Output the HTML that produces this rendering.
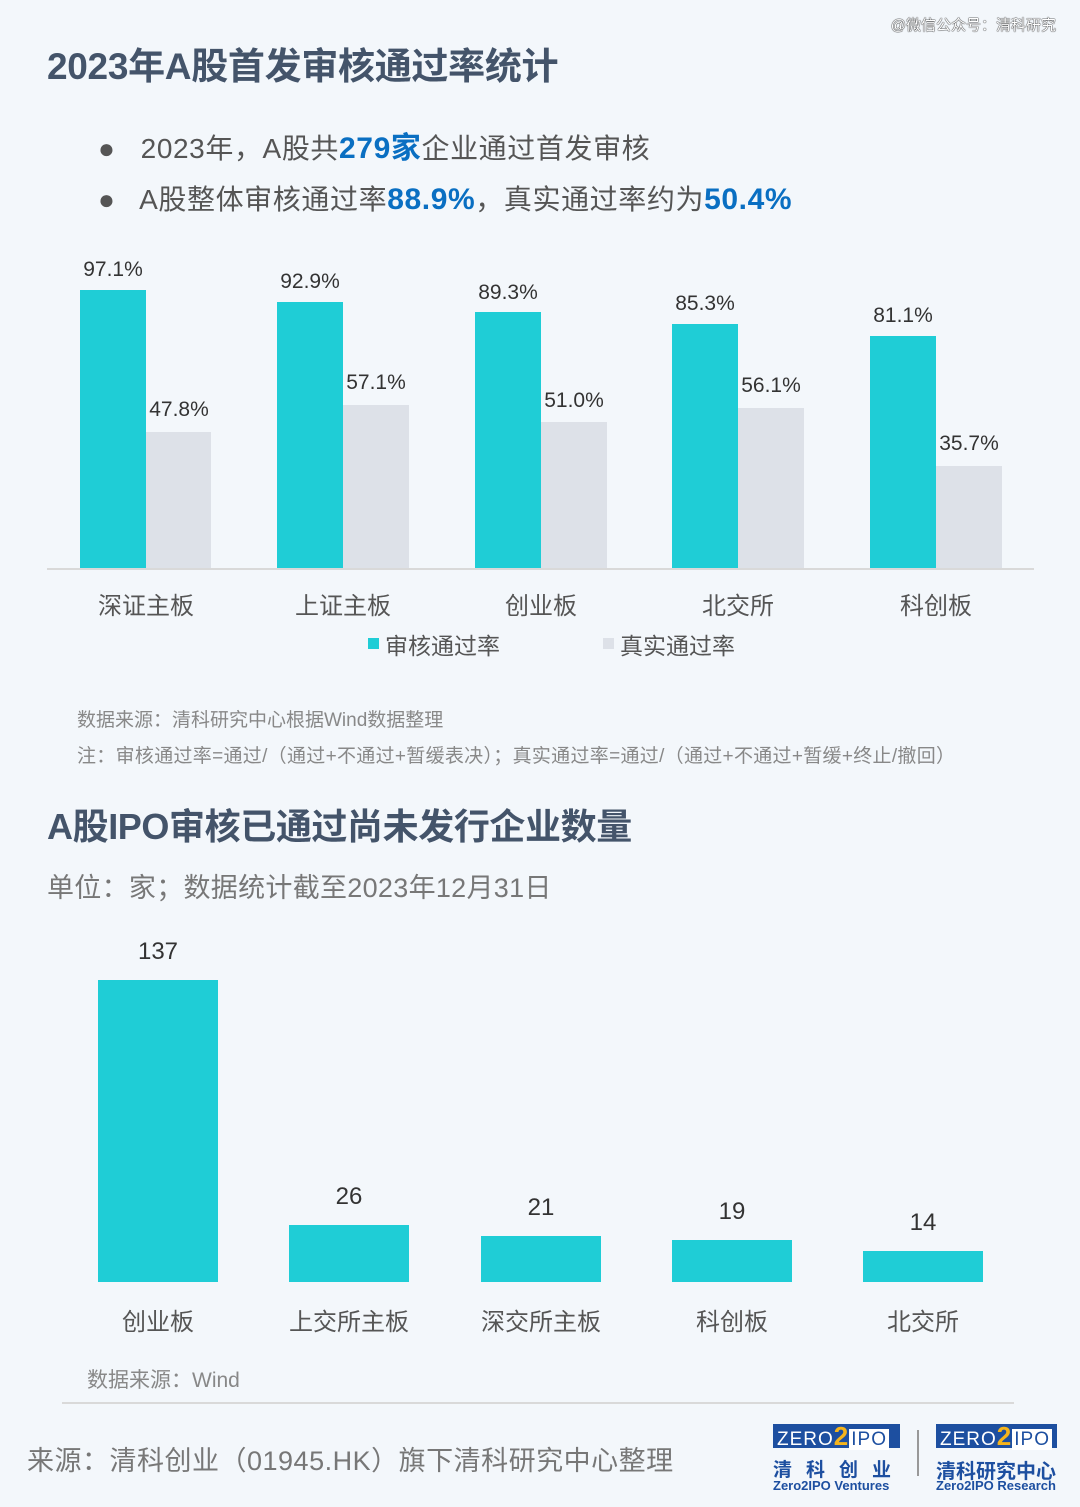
<!DOCTYPE html>
<html><head><meta charset="utf-8"><style>
body{margin:0;background:#f3f7fb;}
#p{position:relative;width:1080px;height:1507px;overflow:hidden;background:#f3f7fb;font-family:"Liberation Sans","Noto Sans CJK SC",sans-serif;}
.a{position:absolute;white-space:nowrap;}
.t{font-weight:bold;color:#44546a;font-size:37px;}
.b{background:#1fcdd6;position:absolute;}
.g{background:#dde1e8;position:absolute;}
.v{position:absolute;font-size:21px;color:#333;text-align:center;width:100px;}
.c{position:absolute;font-size:24px;color:#555;text-align:center;width:160px;}
.hl{color:#0a6fc2;font-weight:bold;font-size:30px;}
</style></head><body><div id="p">
<div class="a" style="right:24px;top:14px;font-size:15px;color:#fff;text-shadow:0 0 1px #000,0 0 1px #000;">@微信公众号：清科研究</div>
<div class="a t" style="left:47px;top:36px;letter-spacing:-0.3px">2023年A股首发审核通过率统计</div>
<div class="a" style="left:98px;top:123px;font-size:28px;color:#555;letter-spacing:0.6px">●&nbsp;&nbsp; 2023年，A股共<span class="hl">279家</span>企业通过首发审核</div>
<div class="a" style="left:98px;top:178px;font-size:28px;color:#555;letter-spacing:0.6px">●&nbsp;&nbsp; A股整体审核通过率<span class="hl">88.9%</span>，真实通过率约为<span class="hl">50.4%</span></div>

<div class="b" style="left:80px;top:290px;width:66px;height:279px"></div><div class="g" style="left:146px;top:432px;width:65px;height:137px"></div>
<div class="b" style="left:277px;top:302px;width:66px;height:267px"></div><div class="g" style="left:343px;top:405px;width:66px;height:164px"></div>
<div class="b" style="left:475px;top:312px;width:66px;height:257px"></div><div class="g" style="left:541px;top:422px;width:66px;height:147px"></div>
<div class="b" style="left:672px;top:324px;width:66px;height:245px"></div><div class="g" style="left:738px;top:408px;width:66px;height:161px"></div>
<div class="b" style="left:870px;top:336px;width:66px;height:233px"></div><div class="g" style="left:936px;top:466px;width:66px;height:103px"></div>
<div class="a" style="left:47px;top:568px;width:987px;height:2px;background:#d9d9d9"></div>
<div class="v" style="left:63px;top:258px">97.1%</div><div class="v" style="left:129px;top:398px">47.8%</div>
<div class="v" style="left:260px;top:270px">92.9%</div><div class="v" style="left:326px;top:371px">57.1%</div>
<div class="v" style="left:458px;top:281px">89.3%</div><div class="v" style="left:524px;top:389px">51.0%</div>
<div class="v" style="left:655px;top:292px">85.3%</div><div class="v" style="left:721px;top:374px">56.1%</div>
<div class="v" style="left:853px;top:304px">81.1%</div><div class="v" style="left:919px;top:432px">35.7%</div>
<div class="c" style="left:66px;top:586px">深证主板</div>
<div class="c" style="left:263px;top:586px">上证主板</div>
<div class="c" style="left:461px;top:586px">创业板</div>
<div class="c" style="left:658px;top:586px">北交所</div>
<div class="c" style="left:856px;top:586px">科创板</div>
<div class="a" style="left:368px;top:638px;width:11px;height:11px;background:#1fcdd6"></div>
<div class="a" style="left:385px;top:627px;font-size:23px;color:#555">审核通过率</div>
<div class="a" style="left:603px;top:638px;width:11px;height:11px;background:#dde1e8"></div>
<div class="a" style="left:620px;top:627px;font-size:23px;color:#555">真实通过率</div>
<div class="a" style="left:77px;top:705px;font-size:19px;color:#888">数据来源：清科研究中心根据Wind数据整理</div>
<div class="a" style="left:77px;top:741px;font-size:19px;color:#888;letter-spacing:0.3px">注：审核通过率=通过/（通过+不通过+暂缓表决）；真实通过率=通过/（通过+不通过+暂缓+终止/撤回）</div>

<div class="a t" style="left:47px;top:798px;font-size:36px;letter-spacing:-0.4px">A股IPO审核已通过尚未发行企业数量</div>
<div class="a" style="left:47px;top:866px;font-size:27px;color:#777;letter-spacing:0.3px">单位：家；数据统计截至2023年12月31日</div>
<div class="b" style="left:98px;top:980px;width:120px;height:302px"></div>
<div class="b" style="left:289px;top:1225px;width:120px;height:57px"></div>
<div class="b" style="left:481px;top:1236px;width:120px;height:46px"></div>
<div class="b" style="left:672px;top:1240px;width:120px;height:42px"></div>
<div class="b" style="left:863px;top:1251px;width:120px;height:31px"></div>
<div class="v" style="left:108px;top:938px;font-size:24px">137</div>
<div class="v" style="left:299px;top:1183px;font-size:24px">26</div>
<div class="v" style="left:491px;top:1194px;font-size:24px">21</div>
<div class="v" style="left:682px;top:1198px;font-size:24px">19</div>
<div class="v" style="left:873px;top:1209px;font-size:24px">14</div>
<div class="c" style="left:78px;top:1302px">创业板</div>
<div class="c" style="left:269px;top:1302px">上交所主板</div>
<div class="c" style="left:461px;top:1302px">深交所主板</div>
<div class="c" style="left:652px;top:1302px">科创板</div>
<div class="c" style="left:843px;top:1302px">北交所</div>
<div class="a" style="left:87px;top:1364px;font-size:21px;color:#888">数据来源：Wind</div>
<div class="a" style="left:62px;top:1402px;width:952px;height:2px;background:#d9d9d9"></div>
<div class="a" style="left:27px;top:1439px;font-size:27px;color:#777;letter-spacing:0.5px">来源：清科创业（01945.HK）旗下清科研究中心整理</div>

<div class="a" style="left:773px;top:1424px;width:127px;height:24px;background:#1d4fa0;color:#fff;font-size:19px;line-height:24px;padding-left:4px;box-sizing:border-box;letter-spacing:1px">ZERO<span style="color:#f5b41c;font-weight:bold;font-size:26px">2</span><span style="background:#fff;color:#1d4fa0;padding:0 2px">IPO</span></div>
<div class="a" style="left:773px;top:1455px;font-size:19px;font-weight:bold;color:#1d4fa0;letter-spacing:14px">清科创业</div>
<div class="a" style="left:773px;top:1478px;font-size:13px;font-weight:bold;color:#1d4fa0">Zero2IPO Ventures</div>
<div class="a" style="left:917px;top:1430px;width:2px;height:46px;background:#999"></div>
<div class="a" style="left:936px;top:1424px;width:121px;height:24px;background:#1d4fa0;color:#fff;font-size:19px;line-height:24px;padding-left:4px;box-sizing:border-box;letter-spacing:1px">ZERO<span style="color:#f5b41c;font-weight:bold;font-size:26px">2</span><span style="background:#fff;color:#1d4fa0;padding:0 2px">IPO</span></div>
<div class="a" style="left:936px;top:1455px;font-size:20px;font-weight:bold;color:#1d4fa0">清科研究中心</div>
<div class="a" style="left:936px;top:1478px;font-size:13px;font-weight:bold;color:#1d4fa0">Zero2IPO Research</div>
</div></body></html>
